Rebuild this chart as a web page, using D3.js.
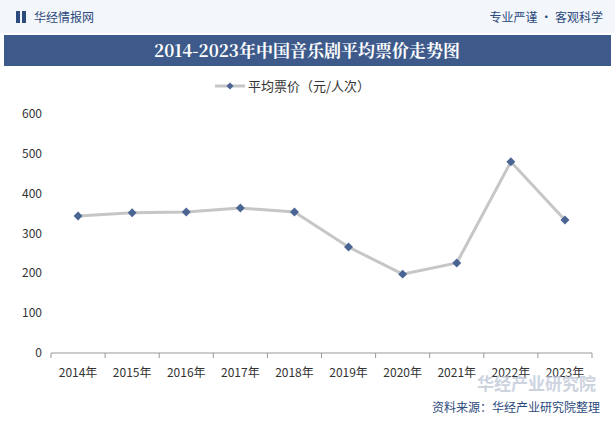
<!DOCTYPE html>
<html><head><meta charset="utf-8">
<script src="https://cdn.jsdelivr.net/npm/d3@7"></script>
<style>body{margin:0;background:#fff;font-family:"Noto Sans CJK SC","Noto Sans",sans-serif}</style>
</head><body><svg id="c" width="615" height="427"></svg>
<script>
const years=["2014年","2015年","2016年","2017年","2018年","2019年","2020年","2021年","2022年","2023年"];
const prices=[344,352,354,364,354,266,198,226,480,334];
const yTicks=[0,100,200,300,400,500,600];
const title="2014-2023年中国音乐剧平均票价走势图";
const legendName="平均票价（元/人次）";

const svg=d3.select("#c");
const f='"Noto Sans CJK SC",sans-serif';
svg.append("rect").attr("x",0).attr("y",0).attr("width",615).attr("height",33).attr("fill","#f3f6fb");
svg.append("rect").attr("x",16).attr("y",11).attr("width",4).attr("height",12).attr("fill","#2c4a7c");
svg.append("rect").attr("x",22).attr("y",11).attr("width",4).attr("height",12).attr("fill","#2c4a7c");
svg.append("text").attr("x",34).attr("y",22).attr("font-size",12).attr("fill","#2c4a7c").attr("font-family",f).text("华经情报网");
svg.append("text").attr("x",603).attr("y",22).attr("text-anchor","end").attr("font-size",12).attr("fill","#2c4a7c").attr("font-family",f).text("专业严谨 • 客观科学");
svg.append("rect").attr("x",4).attr("y",35).attr("width",607).attr("height",31).attr("fill","#3d5a8a");
svg.append("text").attr("x",307).attr("y",57).attr("text-anchor","middle").attr("font-size",17).attr("font-weight","bold").attr("fill","#fff").attr("font-family","'Noto Serif CJK SC','Noto Sans CJK SC',serif").text(title);
svg.append("line").attr("x1",215).attr("x2",245).attr("y1",86).attr("y2",86).attr("stroke","#c6c6c6").attr("stroke-width",3);
svg.append("path").attr("d",d3.symbol(d3.symbolSquare,26)()).attr("transform","translate(230,86) rotate(45)").attr("fill","#4a6594");
svg.append("text").attr("x",248).attr("y",91).attr("font-size",13).attr("fill","#333").attr("font-family",f).text(legendName);

const x=d3.scaleBand().domain(years).range([51,592]);
const y=d3.scaleLinear().domain([0,600]).range([353,114]);
yTicks.forEach(t=>{svg.append("text").attr("x",42).attr("y",y(t)+4).attr("text-anchor","end").attr("font-size",12).attr("fill","#333").attr("font-family",f).text(t);});
svg.append("line").attr("x1",51).attr("x2",592).attr("y1",353).attr("y2",353).attr("stroke","#999");
years.forEach((d,i)=>{
  svg.append("line").attr("x1",x(d)).attr("x2",x(d)).attr("y1",353).attr("y2",358).attr("stroke","#999");
  svg.append("text").attr("x",x(d)+x.bandwidth()/2).attr("y",377).attr("text-anchor","middle").attr("font-size",12).attr("fill","#333").attr("font-family",f).text(d);
});
svg.append("line").attr("x1",592).attr("x2",592).attr("y1",353).attr("y2",358).attr("stroke","#999");
const cx=(d,i)=>x(years[i])+x.bandwidth()/2;
svg.append("path").datum(prices).attr("fill","none").attr("stroke","#c6c6c6").attr("stroke-width",3)
 .attr("d",d3.line().x((d,i)=>cx(d,i)).y(d=>y(d)));
prices.forEach((d,i)=>svg.append("path").attr("d",d3.symbol(d3.symbolSquare,40)()).attr("transform",`translate(${cx(d,i)},${y(d)}) rotate(45)`).attr("fill","#4a6594"));
svg.append("text").attr("x",596).attr("y",390).attr("text-anchor","end").attr("font-size",17).attr("font-weight","bold").attr("fill","#b8c2d3").attr("opacity",0.7).attr("font-family",f).text("华经产业研究院");
svg.append("text").attr("x",600).attr("y",412).attr("text-anchor","end").attr("font-size",12).attr("fill","#2c4a7c").attr("font-family",f).text("资料来源：华经产业研究院整理");
</script></body></html>
